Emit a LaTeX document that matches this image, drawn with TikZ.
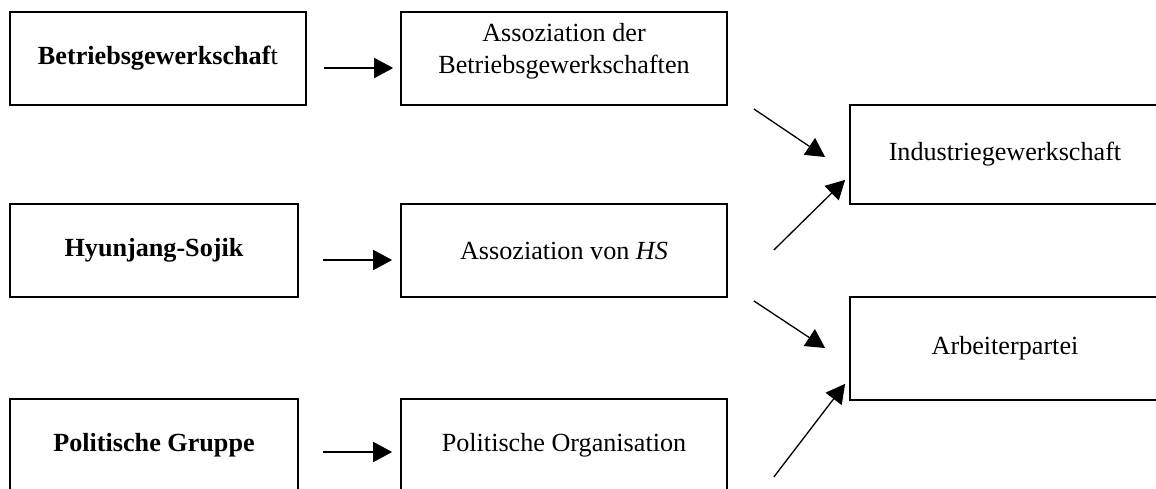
\documentclass[tikz,border=0pt]{standalone}
\usepackage{fontspec}
\setmainfont{Liberation Serif}
\usepackage{tikz}
\usetikzlibrary{arrows.meta}

\begin{document}
\begin{tikzpicture}[x=0.4587pt, y=-0.4587pt,
        box/.style={rectangle, draw, line width=0.8pt, inner sep=0pt, font=\fontsize{12pt}{14.7pt}\selectfont},
        lbox/.style={box, minimum width=132.1pt, minimum height=42.7pt},
        mbox/.style={box, minimum width=149.5pt, minimum height=42.7pt},
        rbox/.style={box, minimum width=142.2pt},
        arr/.style={-{Triangle[length=8.7pt, width=9.2pt]}, line width=0.6pt}]
        \useasboundingbox (0, 0) rectangle (1156, 488);

        % left column
        \node[lbox, minimum width=135.8pt] (bg) at (158, 58.5) {\textbf{Betriebsgewerkschaf}t};
        \node[lbox] (hs) at (154, 250.5) {\textbf{Hyunjang-Sojik}};
        \node[lbox] (pg) at (154, 445.5) {\textbf{Politische Gruppe}};

        % middle column
        \node[mbox] (abg) at (564, 58.5) {\parbox[c][42.7pt][t]{149.5pt}{\centering\rule{0pt}{13.7pt}Assoziation der\\Betriebsgewerkschaften}};
        \node[mbox] (ahs) at (564, 250.5) {Assoziation von \textit{HS}};
        \node[mbox] (po) at (564, 445.5) {Politische Organisation};

        % right column
        \node[rbox, minimum height=45.4pt] (ig) at (1005, 154.5) {Industriegewerkschaft};
        \node[rbox, minimum height=47.2pt] (ap) at (1005, 348.5) {Arbeiterpartei};

        \draw[arr] ([shift={(17, 9.5)}]bg.east) -- ([shift={(-7, 9.5)}]abg.west);
        \draw[arr] ([shift={(24, 9.5)}]hs.east) -- ([shift={(-8, 9.5)}]ahs.west);
        \draw[arr] ([shift={(24, 6.5)}]pg.east) -- ([shift={(-8, 6.5)}]po.west);

        \draw[arr] ([shift={(26, 3)}]abg.south east) -- ([shift={(-24, 2.5)}]ig.west);
        \draw[arr] ([shift={(46, -0.5)}]ahs.east) -- ([shift={(-4, -25)}]ig.south west);
        \draw[arr] ([shift={(26, 3)}]ahs.south east) -- ([shift={(-24, -0.5)}]ap.west);
        \draw[arr] ([shift={(46, 31.5)}]po.east) -- ([shift={(-4, -17)}]ap.south west);
\end{tikzpicture}
\end{document}
